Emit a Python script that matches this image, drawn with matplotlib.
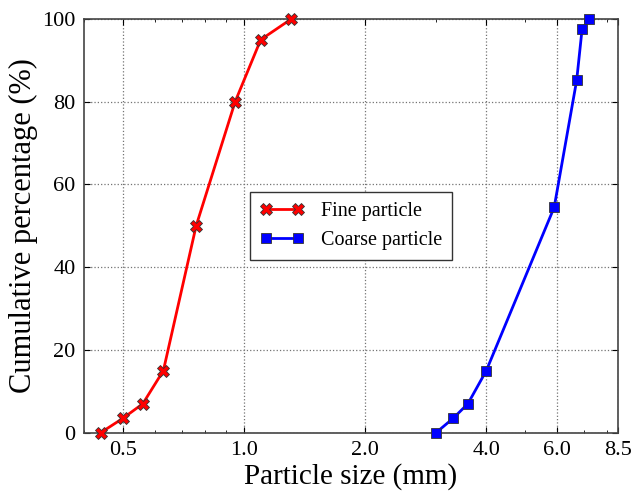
import matplotlib
matplotlib.use("Agg")
import matplotlib.pyplot as plt
from matplotlib.ticker import FixedLocator, FixedFormatter, LogLocator, NullFormatter

plt.rcParams["font.family"] = ["Liberation Serif", "DejaVu Serif"]

# Particle size distribution data
fine_size = [0.44, 0.50, 0.56, 0.63, 0.76, 0.95, 1.10, 1.31]
fine_pct = [0, 3.5, 7, 15, 50, 80, 95, 100]
coarse_size = [3.0, 3.31, 3.6, 4.0, 5.9, 6.71, 6.92, 7.22]
coarse_pct = [0, 3.5, 7, 15, 54.5, 85.2, 97.5, 100]
x_ticks = [0.5, 1.0, 2.0, 4.0, 6.0, 8.5]
y_ticks = [0, 20, 40, 60, 80, 100]

fig = plt.figure(figsize=(6.33, 4.92), dpi=100)
ax = fig.add_axes([0.1327, 0.1205, 0.8436, 0.8409])

ax.plot(fine_size, fine_pct, color="red", lw=2, marker="X", ms=8,
        mfc="red", mec="#333333", mew=0.6, label="Fine particle", clip_on=False, zorder=3)
ax.plot(coarse_size, coarse_pct, color="blue", lw=2, marker="s", ms=7,
        mfc="blue", mec="#333333", mew=0.6, label="Coarse particle", clip_on=False, zorder=3)

ax.set_xscale("log")
ax.set_xlim(0.4, 8.5)
ax.set_ylim(0, 100)
ax.xaxis.set_major_locator(FixedLocator(x_ticks))
ax.xaxis.set_major_formatter(FixedFormatter(["%.1f" % t for t in x_ticks]))
ax.xaxis.set_minor_locator(LogLocator(base=10, subs=[0.2, 0.3, 0.4, 0.5, 0.6, 0.7, 0.8, 0.9]))
ax.xaxis.set_minor_formatter(NullFormatter())
ax.set_yticks(y_ticks)

ax.tick_params(which="both", direction="in", top=True, right=True, labelsize=16, pad=6)
ax.tick_params(which="major", length=4, width=0.8)
ax.tick_params(which="minor", length=2.5, width=0.6)
for s in ax.spines.values():
    s.set_color("#444444")
    s.set_linewidth(1.2)

ax.grid(True, which="major", linestyle=":", color="0.45", linewidth=0.9)

ax.set_xlabel("Particle size (mm)", fontsize=21, labelpad=2)
ax.set_ylabel("Cumulative percentage (%)", fontsize=22, labelpad=3)

leg = ax.legend(loc="center", fontsize=14.5, numpoints=2, fancybox=False,
                framealpha=1, edgecolor="#333333", handlelength=2.2, borderpad=0.5)
leg.get_frame().set_linewidth(1.0)

fig.savefig("out.png", dpi=100)
